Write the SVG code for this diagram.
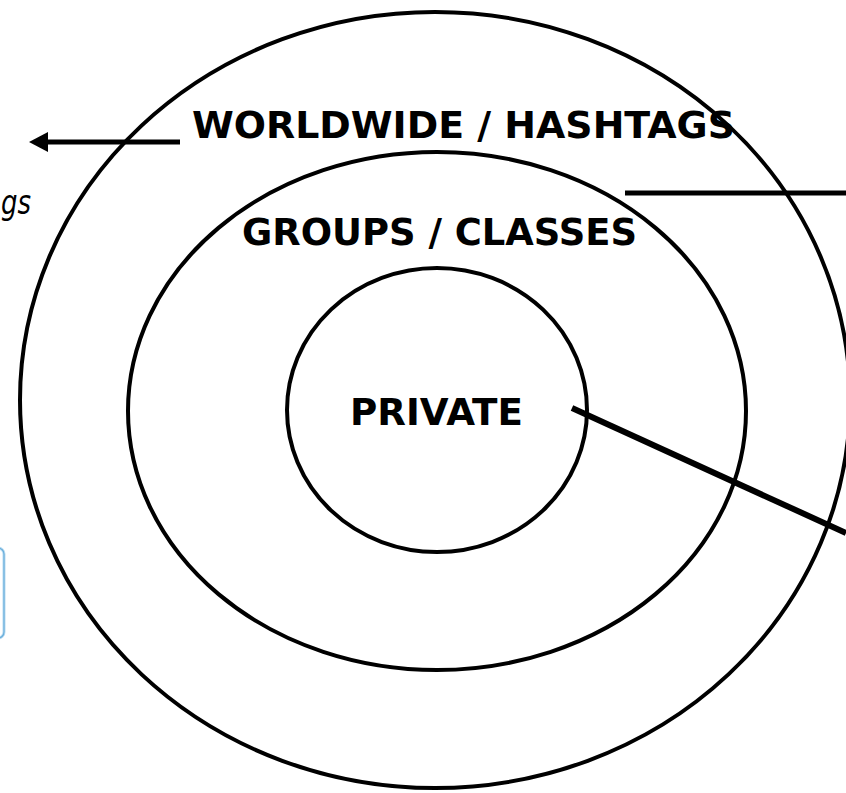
<svg xmlns="http://www.w3.org/2000/svg" width="846" height="793" viewBox="0 0 846 793">
  <style>
    .ring { fill: none; stroke: #000; stroke-width: 4; }
    .lbl { font-family: "DejaVu Sans", "Liberation Sans", sans-serif; font-weight: bold; font-size: 37px; fill: #000; }
    .note { font-family: "DejaVu Sans", "Liberation Sans", sans-serif; font-style: italic; font-size: 34px; fill: #000; }
    .conn { stroke: #000; stroke-linecap: butt; fill: none; }
  </style>
  <rect x="0" y="0" width="846" height="793" fill="#fff"/>
  <g id="side-box">
    <rect x="-20" y="548" width="24" height="90" rx="6" fill="#fff" stroke="#b9dcf2" stroke-width="3"/>
    <rect x="-20" y="548" width="24" height="90" rx="6" fill="none" stroke="#6aaedb" stroke-width="1.2"/>
  </g>
  <g id="side-note">
    <text class="note" x="1" y="214" textLength="30" lengthAdjust="spacingAndGlyphs">gs</text>
  </g>
  <g id="worldwide">
    <ellipse class="ring" cx="435" cy="400" rx="415" ry="388"/>
    <text class="lbl" x="192" y="138" textLength="543" lengthAdjust="spacingAndGlyphs">WORLDWIDE / HASHTAGS</text>
  </g>
  <g id="groups">
    <ellipse class="ring" cx="437" cy="411" rx="309" ry="259"/>
    <text class="lbl" x="242" y="245" textLength="395" lengthAdjust="spacingAndGlyphs">GROUPS / CLASSES</text>
  </g>
  <g id="private">
    <ellipse class="ring" cx="437" cy="410" rx="150" ry="142"/>
    <text class="lbl" x="350" y="425" textLength="173" lengthAdjust="spacingAndGlyphs">PRIVATE</text>
  </g>
  <g id="connectors">
    <line class="conn" x1="180" y1="142" x2="46" y2="142" stroke-width="5"/>
    <polygon points="29,142 48,132 48,152" fill="#000"/>
    <line class="conn" x1="625" y1="193" x2="846" y2="193" stroke-width="5"/>
    <line class="conn" x1="572" y1="408" x2="846" y2="533" stroke-width="6"/>
  </g>
</svg>
